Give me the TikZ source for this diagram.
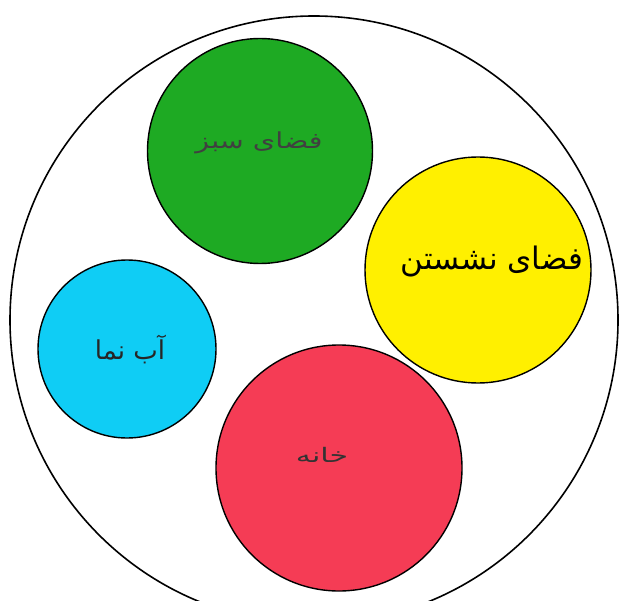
\documentclass[tikz,border=0pt]{standalone}
\usepackage{fontspec}
\newfontfamily\arabicfont[Script=Arabic]{DejaVu Sans}
\TeXXeTstate=1
\definecolor{cgreen}{RGB}{30,170,35}
\definecolor{cyellow}{RGB}{255,240,0}
\definecolor{cblue}{RGB}{15,205,245}
\definecolor{cred}{RGB}{245,60,85}
\tikzset{
  zone/.style={circle, draw=black, line width=1.4pt, inner sep=0pt},
  lbl/.style={inner sep=0pt}
}
\begin{document}
\begin{tikzpicture}[x=1pt,y=-1pt]
\useasboundingbox (0,0) rectangle (620,601);
\fill[white] (0,0) rectangle (620,601);
\node[zone, line width=1.6pt, minimum size=608pt] (outer) at (314,320) {};
\node[zone, fill=cgreen, minimum size=225pt] (green) at (260,151) {};
\node[zone, fill=cyellow, minimum size=226pt] (yellow) at (478,270) {};
\node[zone, fill=cblue, minimum size=178pt] (blue) at (127,349) {};
\node[zone, fill=cred, minimum size=246pt] (red) at (339,468) {};
\node[lbl, xscale=1.3, font=\arabicfont\fontsize{22}{26}\selectfont, text=black!75] (tgreen) at (259,143) {\beginR فضای سبز\endR};
\node[lbl, font=\arabicfont\fontsize{31}{36}\selectfont] (tyellow) at (492,262) {\beginR فضای نشستن\endR};
\node[lbl, font=\arabicfont\fontsize{26}{30}\selectfont, text=black!85] (tblue) at (130,350) {\beginR آب نما\endR};
\node[lbl, xscale=1.5, font=\arabicfont\fontsize{20}{24}\selectfont, text=black!80] (tred) at (322,455) {\beginR خانه\endR};
\end{tikzpicture}
\end{document}
